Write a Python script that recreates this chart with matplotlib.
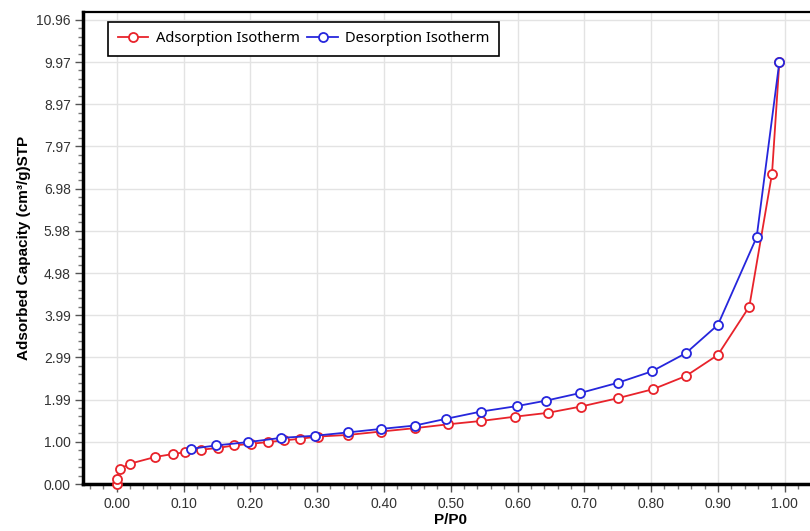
import matplotlib
matplotlib.use("Agg")
import matplotlib.pyplot as plt
from matplotlib.ticker import FixedLocator
import numpy as np

# ---- data ----
ads_x = [0.000, 0.000, 0.005, 0.020, 0.058, 0.085, 0.102, 0.126, 0.151, 0.175,
         0.201, 0.226, 0.251, 0.275, 0.301, 0.347, 0.396, 0.447, 0.496, 0.546,
         0.596, 0.645, 0.695, 0.751, 0.803, 0.852, 0.900, 0.947, 0.981, 0.992]
ads_y = [0.00, 0.12, 0.36, 0.48, 0.64, 0.71, 0.75, 0.81, 0.85, 0.91,
         0.95, 0.99, 1.03, 1.07, 1.12, 1.16, 1.24, 1.32, 1.41, 1.49,
         1.59, 1.68, 1.83, 2.03, 2.24, 2.55, 3.05, 4.19, 7.33, 9.97]

des_x = [0.992, 0.958, 0.900, 0.852, 0.801, 0.750, 0.694, 0.643, 0.599, 0.545,
         0.493, 0.446, 0.395, 0.347, 0.297, 0.246, 0.197, 0.148, 0.111]
des_y = [9.97, 5.83, 3.76, 3.09, 2.66, 2.39, 2.15, 1.97, 1.84, 1.71,
         1.54, 1.38, 1.30, 1.22, 1.14, 1.09, 0.99, 0.91, 0.83]

y_tick_labels = ["0.00", "1.00", "1.99", "2.99", "3.99", "4.98",
                 "5.98", "6.98", "7.97", "8.97", "9.97", "10.96"]
y_tick_top = 10.965
x_tick_labels = ["0.00", "0.10", "0.20", "0.30", "0.40", "0.50",
                 "0.60", "0.70", "0.80", "0.90", "1.00"]

RED = "#E8232B"
BLUE = "#2626DC"

fig = plt.figure(figsize=(8.10, 5.31), dpi=100)
ax = fig.add_axes([83.3 / 810, 47 / 531, (818.1 - 83.3) / 810, 472 / 531])

ax.plot(ads_x, ads_y, color=RED, lw=1.3, marker="o", ms=6.5, mfc="white",
        mec=RED, mew=1.3, label="Adsorption Isotherm", zorder=5, clip_on=False)
ax.plot(des_x, des_y, color=BLUE, lw=1.3, marker="o", ms=6.5, mfc="white",
        mec=BLUE, mew=1.3, label="Desorption Isotherm", zorder=6, clip_on=False)

ax.set_xlim(-0.05, 1.05)
ax.set_ylim(0, 11.15)

step = y_tick_top / (len(y_tick_labels) - 1)
y_ticks = [i * step for i in range(len(y_tick_labels))]
ax.yaxis.set_major_locator(FixedLocator(y_ticks))
ax.set_yticklabels(y_tick_labels)
ax.yaxis.set_minor_locator(FixedLocator(np.arange(0, 11.15, step / 5)))

x_ticks = [i * 0.1 for i in range(len(x_tick_labels))]
ax.xaxis.set_major_locator(FixedLocator(x_ticks))
ax.set_xticklabels(x_tick_labels)
ax.xaxis.set_minor_locator(FixedLocator(np.arange(-0.04, 1.05, 0.02)))

for lab in ax.get_xticklabels() + ax.get_yticklabels():
    lab.set_fontfamily("Liberation Sans")
    lab.set_fontsize(10)
    lab.set_color("#333333")

ax.tick_params(axis="both", which="major", direction="out", length=6, width=1,
               color="#555555", pad=3)
ax.tick_params(axis="both", which="minor", direction="out", length=3.5, width=1,
               color="#777777")

ax.grid(True, which="major", color="#e3e3e3", lw=1.0, zorder=0)
ax.set_axisbelow(True)

ax.spines["left"].set_linewidth(2.5)
ax.spines["bottom"].set_linewidth(2.5)
ax.spines["top"].set_linewidth(1.6)
ax.spines["right"].set_visible(False)
for s in ("left", "bottom", "top"):
    ax.spines[s].set_color("black")
    ax.spines[s].set_zorder(4)

ax.set_xlabel("P/P0", fontfamily="Liberation Sans", fontweight="bold",
              fontsize=11, labelpad=2)
ax.set_ylabel("Adsorbed Capacity (cm³/g)STP", fontfamily="Liberation Sans",
              fontweight="bold", fontsize=11, labelpad=4)

leg = ax.legend(loc="upper left", ncol=2, bbox_to_anchor=(0.0336, 0.979),
                borderaxespad=0,
                frameon=True, fancybox=False, framealpha=1, edgecolor="black",
                prop=dict(family="Noto Sans", size=10.6), handlelength=2.1,
                columnspacing=0.5, handletextpad=0.5, borderpad=0.65)
leg.get_frame().set_linewidth(1.2)
leg.set_zorder(10)

fig.savefig("out.png", dpi=100)
